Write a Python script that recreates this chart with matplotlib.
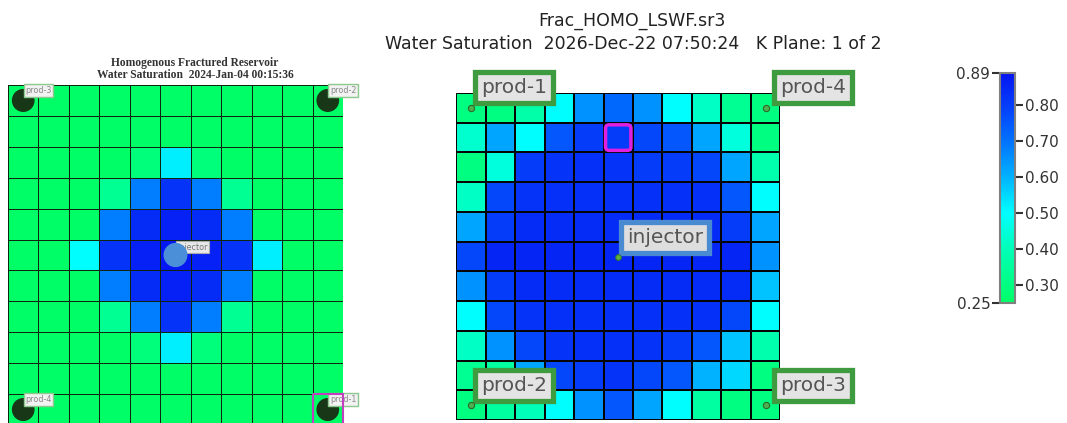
import matplotlib
matplotlib.use("Agg")
import matplotlib.pyplot as plt
import numpy as np
from matplotlib.colors import LinearSegmentedColormap, Normalize
from matplotlib.patches import Circle, Rectangle, FancyBboxPatch
from matplotlib.cm import ScalarMappable

W, H = 1067, 423

# water saturation, left model (11 x 11, row 0 = top)
left_sw = [
    [.25, .25, .25, .25, .25, .25, .25, .25, .25, .25, .25],
    [.25, .25, .25, .25, .25, .25, .25, .25, .25, .25, .25],
    [.25, .25, .25, .25, .29, .52, .29, .25, .25, .25, .25],
    [.25, .25, .25, .33, .68, .82, .68, .33, .25, .25, .25],
    [.25, .25, .25, .68, .84, .86, .84, .68, .25, .25, .25],
    [.25, .25, .50, .82, .86, .88, .86, .82, .52, .25, .25],
    [.25, .25, .25, .68, .84, .86, .84, .68, .25, .25, .25],
    [.25, .25, .25, .33, .68, .82, .68, .33, .25, .25, .25],
    [.25, .25, .25, .25, .29, .52, .29, .25, .25, .25, .25],
    [.25, .25, .25, .25, .25, .25, .25, .25, .25, .25, .25],
    [.25, .25, .25, .25, .25, .25, .25, .25, .25, .25, .25],
]

# water saturation, right model (11 x 11, row 0 = top)
right_sw = [
    [.30, .30, .37, .50, .65, .72, .65, .50, .42, .33, .30],
    [.43, .62, .50, .75, .80, .80, .78, .75, .62, .45, .30],
    [.30, .45, .80, .82, .83, .82, .80, .80, .78, .62, .38],
    [.42, .78, .82, .83, .83, .83, .83, .83, .83, .75, .50],
    [.62, .80, .84, .84, .84, .84, .84, .84, .84, .80, .62],
    [.78, .85, .85, .85, .85, .85, .85, .85, .85, .85, .65],
    [.65, .80, .84, .84, .84, .84, .84, .84, .84, .84, .58],
    [.50, .78, .82, .83, .83, .83, .83, .83, .83, .78, .50],
    [.42, .65, .78, .82, .83, .83, .82, .80, .75, .58, .38],
    [.33, .36, .62, .78, .80, .82, .78, .75, .60, .55, .30],
    [.30, .36, .40, .50, .65, .75, .62, .50, .36, .30, .30],
]

# wells: (name, row, col)
left_wells = [("prod-3", 0, 0), ("prod-2", 0, 10), ("prod-4", 10, 0), ("prod-1", 10, 10)]
left_injector = ("injector", 5, 5)
right_wells = [("prod-1", 0, 0), ("prod-4", 0, 10), ("prod-2", 10, 0), ("prod-3", 10, 10)]
right_injector = ("injector", 5, 5)

vmin, vmax = 0.25, 0.89
cb_ticks = [0.30, 0.40, 0.50, 0.60, 0.70, 0.80]

stops = [(0.25, (0.0, 1.0, 0.40)), (0.40, (0.0, 1.0, 0.72)), (0.50, (0.0, 1.0, 1.0)),
         (0.60, (0.0, 0.70, 1.0)), (0.70, (0.0, 0.45, 1.0)), (0.80, (0.02, 0.24, 0.98)),
         (0.89, (0.02, 0.08, 0.95))]
cmap = LinearSegmentedColormap.from_list(
    "sw", [((v - vmin) / (vmax - vmin), c) for v, c in stops])
norm = Normalize(vmin, vmax)


def px_axes(fig, x0, y0, x1, y1):
    return fig.add_axes([x0 / W, 1 - y1 / H, (x1 - x0) / W, (y1 - y0) / H])


fig = plt.figure(figsize=(W / 100, H / 100), dpi=100)

# ---------------- left grid ----------------
axl = px_axes(fig, 8, 85, 343, 425)
data = np.array(left_sw)
axl.pcolormesh(data, cmap=cmap, norm=norm, edgecolors="#0e260e", linewidth=0.6)
axl.set_xlim(0, 11)
axl.set_ylim(11, 0)
axl.axis("off")
for name, r, c in left_wells:
    axl.add_patch(Circle((c + 0.5, r + 0.5), 0.35, color="#173717", zorder=5))
    axl.annotate(name, (c + 0.5, r + 0.5), xytext=(2, 10), textcoords="offset pixels",
                 ha="left", va="center", fontsize=5.8, color="#8a8a8a", zorder=6,
                 annotation_clip=False,
                 bbox=dict(boxstyle="square,pad=0.2", fc="#f2f2f2", ec="#8fc88f", lw=1))
name, r, c = left_injector
axl.annotate(name, (c + 0.5, r + 0.5), xytext=(2, 8), textcoords="offset pixels",
             ha="left", va="center", fontsize=5.8, color="#777777", zorder=6,
             bbox=dict(boxstyle="square,pad=0.15", fc="#e8e8e8", ec="#aaaaaa", lw=0.8))
axl.add_patch(Circle((c + 0.5, r + 0.5), 0.37, color="#4a8fd8", zorder=7))
axl.add_patch(Rectangle((10, 10), 1, 1, fill=False, ec="#c040c0", lw=1.5, zorder=8,
                        clip_on=False))
fig.text(195 / W, 1 - 63 / H, "Homogenous Fractured Reservoir", ha="center", va="center",
         family="Liberation Serif", fontweight="bold", fontsize=8.3, color="#333333")
fig.text(195 / W, 1 - 75 / H, "Water Saturation  2024-Jan-04 00:15:36", ha="center",
         va="center", family="Liberation Serif", fontweight="bold", fontsize=8.3,
         color="#333333")

# ---------------- right grid ----------------
axr = px_axes(fig, 456, 93, 780.5, 420)
data = np.array(right_sw)
axr.pcolormesh(data, cmap=cmap, norm=norm, edgecolors="#050505", linewidth=1.2)
axr.set_xlim(0, 11)
axr.set_ylim(11, 0)
axr.axis("off")
axr.add_patch(FancyBboxPatch((5.07, 1.07), 0.86, 0.86, boxstyle="round,pad=0,rounding_size=0.12",
                             fill=False, ec="#e020e0", lw=2.5, zorder=6))
for name, r, c in right_wells:
    off = (10, 20) if c == 0 else (14, 20)
    axr.annotate(name, (c + 0.5, r + 0.5), xytext=off, textcoords="offset pixels",
                 ha="left", va="center", fontsize=14.5, color="#555555", zorder=8,
                 annotation_clip=False,
                 bbox=dict(boxstyle="square,pad=0.3", fc="#e4e4e4", ec="#3f9b3f", lw=3.8))
    axr.plot(c + 0.5, r + 0.5, "o", ms=4.5, mfc="#50b050", mec="#2a6a2a", mew=0.8,
             zorder=9, clip_on=False)
name, r, c = right_injector
axr.annotate(name, (c + 0.5, r + 0.5), xytext=(9, 19), textcoords="offset pixels",
             ha="left", va="center", fontsize=14.5, color="#555555", zorder=8,
             bbox=dict(boxstyle="square,pad=0.3", fc="#dedede", ec="#4a8ad0", lw=3.8))
axr.plot(c + 0.5, r + 0.5, "o", ms=4, mfc="#60b040", mec="#3a7a2a", mew=0.8, zorder=9)

fig.text(632 / W, 1 - 21 / H, "Frac_HOMO_LSWF.sr3", ha="center", va="center",
         fontsize=12.5, color="#222222")
fig.text(633 / W, 1 - 44 / H,
         "Water Saturation  2026-Dec-22 07:50:24   K Plane: 1 of 2",
         ha="center", va="center", fontsize=12.5, color="#222222")

# ---------------- colorbar ----------------
cax = px_axes(fig, 1000, 73, 1015, 303)
cb = fig.colorbar(ScalarMappable(norm=norm, cmap=cmap), cax=cax, ticks=cb_ticks)
cb.ax.set_yticklabels([f"{t:.2f}" for t in cb_ticks])
cb.ax.tick_params(length=6, width=1.5, colors="#333333", labelsize=11, pad=1)
cb.outline.set_edgecolor("#808080")
cb.outline.set_linewidth(1.5)
sec = cb.ax.secondary_yaxis("left")
sec.set_yticks([vmin, vmax])
sec.set_yticklabels([f"{vmin:.2f}", f"{vmax:.2f}"])
sec.tick_params(length=6, width=1.5, colors="#333333", labelsize=11, pad=1)
sec.spines["left"].set_visible(False)

fig.savefig("out.png", dpi=100)
